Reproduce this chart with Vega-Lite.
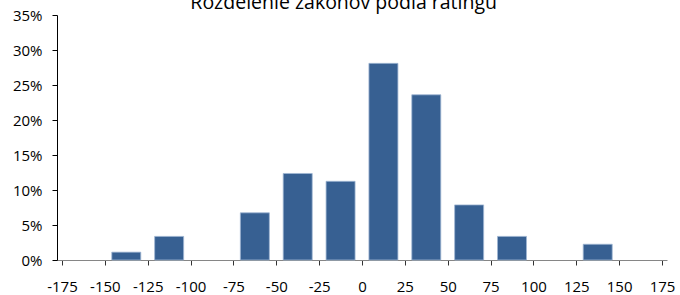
{
  "$schema": "https://vega.github.io/schema/vega-lite/v6.json",
  "autosize": {"type": "none"},
  "padding": {"left": 57, "top": 15, "right": 13, "bottom": 35},
  "width": 610,
  "height": 245,
  "background": "white",
  "title": {
    "text": "Rozdelenie zákonov podľa ratingu",
    "font": "Open Sans",
    "fontSize": 19.5,
    "fontWeight": "normal",
    "color": "#000000",
    "frame": "bounds",
    "offset": 2,
    "dy": 7
  },
  "data": {
    "values": [
      {"rating": -137.5, "share": 0.0112},
      {"rating": -112.5, "share": 0.0337},
      {"rating": -62.5, "share": 0.0674},
      {"rating": -37.5, "share": 0.1236},
      {"rating": -12.5, "share": 0.1124},
      {"rating": 12.5, "share": 0.2809},
      {"rating": 37.5, "share": 0.2360},
      {"rating": 62.5, "share": 0.0787},
      {"rating": 87.5, "share": 0.0337},
      {"rating": 137.5, "share": 0.0225}
    ]
  },
  "mark": {"type": "bar", "size": 29, "color": "#376092", "stroke": "#9fb6d3", "strokeWidth": 0.8},
  "encoding": {
    "x": {
      "field": "rating",
      "type": "quantitative",
      "scale": {"domain": [-175, 175], "nice": false, "zero": false},
      "axis": {
        "title": null,
        "values": [-175, -150, -125, -100, -75, -50, -25, 0, 25, 50, 75, 100, 125, 150, 175],
        "labelExpr": "'' + datum.value",
        "grid": false,
        "domainColor": "#868686",
        "tickColor": "#333333",
        "tickSize": 5,
        "labelPadding": 14,
        "labelFont": "Open Sans",
        "labelFontSize": 15,
        "labelColor": "#000000",
        "labelFlush": false,
        "labelOverlap": false
      }
    },
    "y": {
      "field": "share",
      "type": "quantitative",
      "scale": {"domain": [0, 0.35], "nice": false},
      "axis": {
        "title": null,
        "values": [0, 0.05, 0.1, 0.15, 0.2, 0.25, 0.3, 0.35],
        "format": ".0%",
        "grid": false,
        "domainColor": "#000000",
        "tickColor": "#000000",
        "tickSize": 5,
        "labelPadding": 10,
        "labelFont": "Open Sans",
        "labelFontSize": 15,
        "labelColor": "#000000",
        "labelFlush": false,
        "labelOverlap": false
      }
    }
  },
  "config": {"view": {"stroke": null}}
}
